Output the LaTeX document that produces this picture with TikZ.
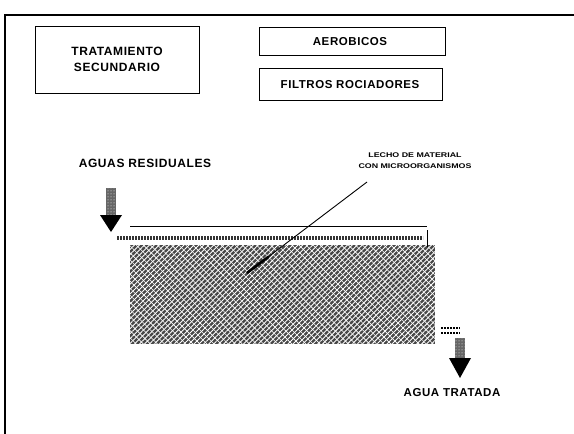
\documentclass[tikz,border=0pt]{standalone}
\usepackage{fontspec}
\setmainfont{Liberation Sans}
\newfontfamily\lsfont[LetterSpace=5]{Liberation Sans}
\usetikzlibrary{patterns,patterns.meta,calc}
\begin{document}
\begin{tikzpicture}[x=1pt,y=-1pt,
  box/.style={draw, line width=0.9pt, inner sep=0pt},
  label/.style={font=\lsfont\bfseries\fontsize{11.5}{15}\selectfont, inner sep=0pt, align=center},
  small/.style={font=\bfseries\fontsize{6.8}{11}\selectfont, inner sep=0pt, align=center},
  shaft/.style={fill=black!60, postaction={pattern=dots, pattern color=white}},
  head/.style={fill=black}]
\useasboundingbox (0,0) rectangle (574,434);
% frame
\draw[line width=1.3pt] (574,15) -- (5,15) -- (5,434);
% title boxes
\node[box, minimum width=164pt, minimum height=67pt, label, font=\lsfont\bfseries\fontsize{12}{16}\selectfont] (ts) at (117,59.5) {TRATAMIENTO\\SECUNDARIO};
\node[box, minimum width=186pt, minimum height=28pt] (aer) at (352,41) {};
\node[label] (aert) at (350,42) {AEROBICOS};
\node[box, minimum width=183pt, minimum height=32pt] (fil) at (350.5,84) {};
\node[label] (filt) at (350,84.5) {FILTROS ROCIADORES};
% labels
\node[label, font=\lsfont\bfseries\fontsize{12}{15}\selectfont] (in) at (145,163) {AGUAS RESIDUALES};
\node[small] (lecho) at (415,161) {\scalebox{1.3}[1]{LECHO DE MATERIAL}\\\scalebox{1.3}[1]{CON MICROORGANISMOS}};
\node[label] (out) at (452,393) {AGUA TRATADA};
% filter bed
\node[inner sep=0pt, minimum width=305pt, minimum height=99pt, fill=black!72] (bed) at (282.5,294.5) {};
\fill[pattern={Lines[angle=45,distance=3.5pt,line width=0.9pt]}, pattern color=white] (bed.north west) rectangle (bed.south east);
\fill[pattern={Lines[angle=-45,distance=5pt,line width=0.6pt]}, pattern color=white] (bed.north west) rectangle (bed.south east);
% distributor
\draw[line width=0.8pt] (130,226) -- (427,226);
\draw[line width=0.8pt] (427,230) -- (427,247);
\draw[line width=4pt, black!80, dash pattern=on 2pt off 1pt] (117,238) -- (423,238);
% outlet
\draw[line width=1.2pt, dash pattern=on 2pt off 1pt] (441,328) -- (460,328);
\draw[line width=1.2pt, dash pattern=on 2pt off 1pt] (441,333) -- (460,333);
% arrows
\path[shaft] (106,188) rectangle (116,215);
\path[head] (100,215) -- (122,215) -- (111,232) -- cycle;
\path[shaft] (455,338) rectangle (465,358);
\path[head] (449,358) -- (471,358) -- (460,378) -- cycle;
% leader
\coordinate (lstart) at (367,182);
\coordinate (lend) at (247,273);
\draw[line width=0.9pt] (lstart) -- (lend);
\draw[line width=2.6pt] ($(lstart)!0.82!(lend)$) -- (lend);
\end{tikzpicture}
\end{document}
